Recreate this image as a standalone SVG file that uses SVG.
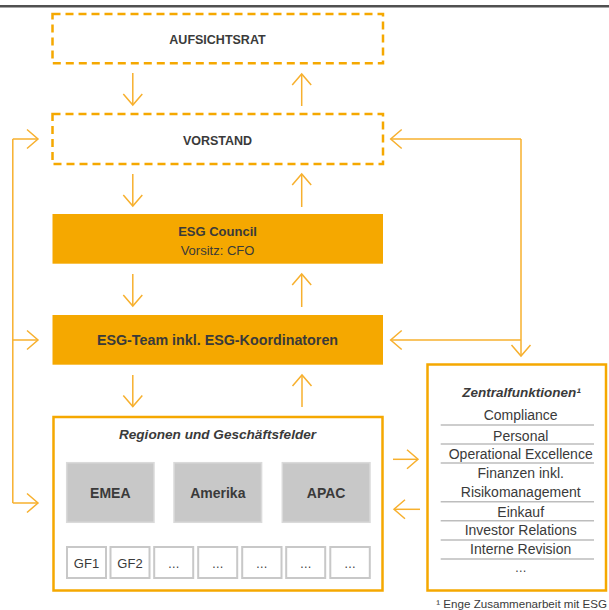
<svg xmlns="http://www.w3.org/2000/svg" width="609" height="610" viewBox="0 0 609 610">
<style>
text{font-family:"Liberation Sans",Arial,sans-serif;fill:#3a3a3a;text-anchor:middle}
.b{font-weight:bold}
.bi{font-weight:bold;font-style:italic}
.dash{fill:#fff;stroke:#F5A800;stroke-width:2.5;stroke-dasharray:8 5}
.solid{fill:#F5A800}
.frame{fill:#fff;stroke:#F5A800;stroke-width:2.5}
.gray{fill:#C8C8C8;stroke:#DADADA;stroke-width:1.5}
.gf{fill:#fff;stroke:#C8C8C8;stroke-width:2}
.c{fill:none;stroke:#F7B02E;stroke-width:1.5}
.sep{stroke:#BDBDBD;stroke-width:1.5}
.zi{font-size:14px}
</style>
<defs>
<marker id="ah" viewBox="-13 -11 15 22" refX="0" refY="0" markerWidth="15" markerHeight="22" markerUnits="userSpaceOnUse" orient="auto">
<path d="M-11,-9.5 L0,0 L-11,9.5" fill="none" stroke="#F7B02E" stroke-width="1.5"/>
</marker>
</defs>
<rect x="0" y="5" width="609" height="2.5" fill="#505050"/>

<g id="connectors">
<path class="c" d="M132.8,73 V105" marker-end="url(#ah)"/>
<path class="c" d="M301.7,106 V74" marker-end="url(#ah)"/>
<path class="c" d="M132.8,174 V206" marker-end="url(#ah)"/>
<path class="c" d="M301.7,207 V174" marker-end="url(#ah)"/>
<path class="c" d="M132.8,274 V306" marker-end="url(#ah)"/>
<path class="c" d="M301.7,307 V274" marker-end="url(#ah)"/>
<path class="c" d="M132.8,375 V406.5" marker-end="url(#ah)"/>
<path class="c" d="M302,407 V375" marker-end="url(#ah)"/>
<path class="c" d="M12.8,139 V503"/>
<path class="c" d="M12.8,139 H38" marker-end="url(#ah)"/>
<path class="c" d="M12.8,340 H38" marker-end="url(#ah)"/>
<path class="c" d="M12.8,503 H38" marker-end="url(#ah)"/>
<path class="c" d="M521,139 V356" marker-end="url(#ah)"/>
<path class="c" d="M521,139 H390.7" marker-end="url(#ah)"/>
<path class="c" d="M521,340 H390.7" marker-end="url(#ah)"/>
<path class="c" d="M393,459.3 H418" marker-end="url(#ah)"/>
<path class="c" d="M420,509.3 H394" marker-end="url(#ah)"/>
</g>

<g id="aufsichtsrat">
<rect class="dash" x="52.5" y="14" width="330.5" height="49.3"/>
<text class="b" x="217.5" y="43.7" font-size="12.5">AUFSICHTSRAT</text>
</g>
<g id="vorstand">
<rect class="dash" x="52.5" y="114" width="330.5" height="50"/>
<text class="b" x="217.5" y="144.5" font-size="12.5">VORSTAND</text>
</g>
<g id="esg-council">
<rect class="solid" x="52.5" y="214" width="330.5" height="49.7"/>
<text class="b" x="217.5" y="235.7" font-size="13">ESG Council</text>
<text x="217.5" y="254.7" font-size="13">Vorsitz: CFO</text>
</g>
<g id="esg-team">
<rect class="solid" x="52.5" y="315" width="330.5" height="49.7"/>
<text class="b" x="217.5" y="345" font-size="14.3">ESG-Team inkl. ESG-Koordinatoren</text>
</g>
<g id="regionen">
<rect class="frame" x="53.5" y="417" width="329" height="173.5"/>
<text class="bi" x="217.5" y="439" font-size="13.6">Regionen und Geschäftsfelder</text>
</g>
<g id="emea">
<rect class="gray" x="66.7" y="462.7" width="87.3" height="59.6"/>
<text class="b" x="110.3" y="498" font-size="14">EMEA</text>
</g>
<g id="amerika">
<rect class="gray" x="174" y="462.7" width="87.6" height="59.6"/>
<text class="b" x="217.8" y="498" font-size="14">Amerika</text>
</g>
<g id="apac">
<rect class="gray" x="282.3" y="462.7" width="87.7" height="59.6"/>
<text class="b" x="326.1" y="498" font-size="14">APAC</text>
</g>
<g id="gf1"><rect class="gf" x="67" y="547" width="39" height="31"/><text x="86.5" y="567.5" font-size="13">GF1</text></g>
<g id="gf2"><rect class="gf" x="110.5" y="547" width="39" height="31"/><text x="130" y="567.5" font-size="13">GF2</text></g>
<g id="gf3"><rect class="gf" x="154.2" y="547" width="39" height="31"/><text x="173.7" y="568" font-size="12">…</text></g>
<g id="gf4"><rect class="gf" x="198.2" y="547" width="39" height="31"/><text x="217.7" y="568" font-size="12">…</text></g>
<g id="gf5"><rect class="gf" x="242.2" y="547" width="39.3" height="31"/><text x="261.8" y="568" font-size="12">…</text></g>
<g id="gf6"><rect class="gf" x="286.2" y="547" width="39" height="31"/><text x="305.7" y="568" font-size="12">…</text></g>
<g id="gf7"><rect class="gf" x="330.3" y="547" width="39.5" height="31"/><text x="350" y="568" font-size="12">…</text></g>

<g id="zentralfunktionen">
<rect class="frame" x="427.5" y="364.5" width="178.5" height="226"/>
<text class="bi" x="521.5" y="396.5" font-size="13.5">Zentralfunktionen¹</text>
<text class="zi" x="520.7" y="420">Compliance</text>
<line class="sep" x1="440.7" y1="425" x2="594" y2="425"/>
<text class="zi" x="520.7" y="440.5">Personal</text>
<line class="sep" x1="440.7" y1="444" x2="594" y2="444"/>
<text class="zi" x="520.7" y="459.3">Operational Excellence</text>
<line class="sep" x1="440.7" y1="463" x2="594" y2="463"/>
<text class="zi" x="520.7" y="478.3">Finanzen inkl.</text>
<text class="zi" x="520.7" y="497.3">Risikomanagement</text>
<line class="sep" x1="440.7" y1="501.7" x2="594" y2="501.7"/>
<text class="zi" x="520.7" y="516.7">Einkauf</text>
<line class="sep" x1="440.7" y1="520.7" x2="594" y2="520.7"/>
<text class="zi" x="520.7" y="535.3">Investor Relations</text>
<line class="sep" x1="440.7" y1="540" x2="594" y2="540"/>
<text class="zi" x="520.7" y="554.3">Interne Revision</text>
<line class="sep" x1="440.7" y1="559" x2="594" y2="559"/>
<text x="520.7" y="572" font-size="12">…</text>
</g>
<text x="607" y="608" font-size="11.6" style="text-anchor:end">¹ Enge Zusammenarbeit mit ESG</text>
</svg>
